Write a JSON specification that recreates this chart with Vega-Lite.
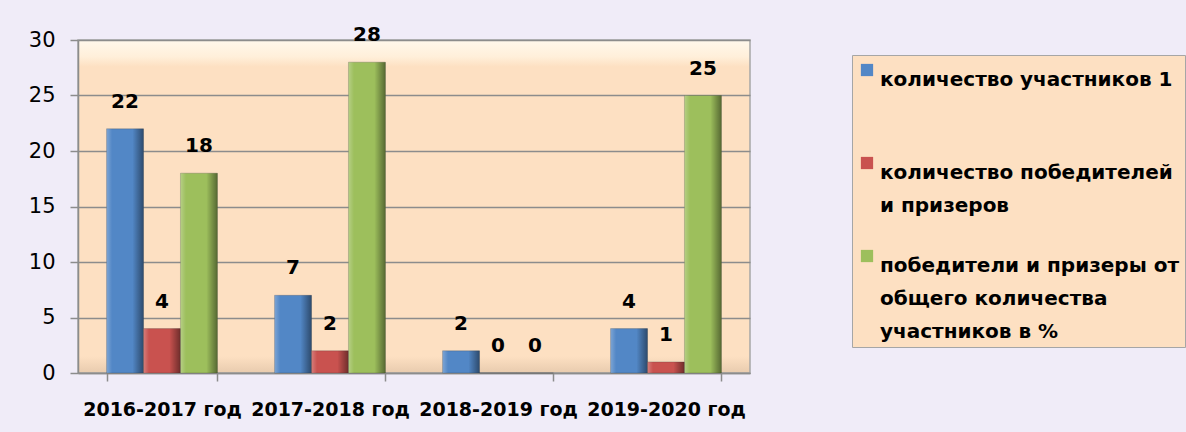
{
  "$schema": "https://vega.github.io/schema/vega-lite/v6.json",
  "width": 672,
  "height": 333,
  "autosize": {"type": "none"},
  "padding": {"left": 78, "top": 40, "right": 436, "bottom": 59},
  "background": "#F0ECF8",
  "config": {
    "font": "DejaVu Sans",
    "style": {"guide-label": {"lineHeight": 33}},
    "view": {
      "fill": {"gradient": "linear", "x1": 0, "y1": 0, "x2": 0, "y2": 1, "stops": [
        {"offset": 0, "color": "#FFF8EC"},
        {"offset": 0.05, "color": "#FFEFDA"},
        {"offset": 0.08, "color": "#FDE0C2"},
        {"offset": 0.95, "color": "#FDE0C2"},
        {"offset": 1, "color": "#E8CBAE"}
      ]},
      "stroke": "#A6A6A6",
      "strokeWidth": 1.5
    }
  },
  "data": {
    "values": [
      {"year": "2016-2017 год", "series": "количество участников 1", "value": 22},
      {"year": "2016-2017 год", "series": "количество победителей и призеров", "value": 4},
      {"year": "2016-2017 год", "series": "победители и призеры от общего количества участников в %", "value": 18},
      {"year": "2017-2018 год", "series": "количество участников 1", "value": 7},
      {"year": "2017-2018 год", "series": "количество победителей и призеров", "value": 2},
      {"year": "2017-2018 год", "series": "победители и призеры от общего количества участников в %", "value": 28},
      {"year": "2018-2019 год", "series": "количество участников 1", "value": 2},
      {"year": "2018-2019 год", "series": "количество победителей и призеров", "value": 0},
      {"year": "2018-2019 год", "series": "победители и призеры от общего количества участников в %", "value": 0},
      {"year": "2019-2020 год", "series": "количество участников 1", "value": 4},
      {"year": "2019-2020 год", "series": "количество победителей и призеров", "value": 1},
      {"year": "2019-2020 год", "series": "победители и призеры от общего количества участников в %", "value": 25}
    ]
  },
  "encoding": {
    "x": {
      "field": "year", "type": "nominal", "title": null,
      "scale": {"paddingInner": 0.34, "paddingOuter": 0.17},
      "axis": {
        "labelAngle": 0, "labelFont": "DejaVu Sans", "labelFontSize": 19, "labelFontWeight": "bold",
        "labelColor": "#000000", "labelPadding": 19, "tickBand": "extent", "tickSize": 8,
        "tickColor": "#8C8C8C", "domainColor": "#8C8C8C", "domainWidth": 1.5, "tickWidth": 1.5,
        "labelLimit": 200
      }
    },
    "xOffset": {
      "field": "series", "type": "nominal",
      "scale": {"paddingInner": 0, "paddingOuter": 0},
      "sort": ["количество участников 1", "количество победителей и призеров", "победители и призеры от общего количества участников в %"]
    },
    "y": {
      "field": "value", "type": "quantitative", "title": null,
      "scale": {"domain": [0, 30], "nice": false},
      "axis": {
        "values": [0, 5, 10, 15, 20, 25, 30], "labelFontSize": 21, "labelColor": "#000000",
        "labelPadding": 15, "tickSize": 8, "tickColor": "#8C8C8C", "tickWidth": 1.5,
        "gridColor": "#8C8C8C", "gridWidth": 1.5, "gridOpacity": 1,
        "domainColor": "#8C8C8C", "domainWidth": 1.5
      }
    }
  },
  "layer": [
    {
      "mark": {"type": "bar", "stroke": "#3a3a3a", "strokeWidth": 0.5, "strokeOpacity": 0.5},
      "encoding": {
        "color": {
          "field": "series", "type": "nominal",
          "scale": {
            "domain": ["количество участников 1", "количество победителей и призеров", "победители и призеры от общего количества участников в %"],
            "range": ["#5287C6", "#C9524F", "#9DBF5C"]
          },
          "legend": {
            "orient": "none", "legendX": 774, "legendY": 15,
            "title": null, "symbolType": "square", "symbolSize": 150,
            "symbolStrokeWidth": 0,
            "labelFont": "DejaVu Sans", "labelFontSize": 20, "labelFontWeight": "bold", "labelColor": "#000000",
            "labelLimit": 340, "labelOffset": 3, "rowPadding": 30,
            "fillColor": "#FDE0C2", "strokeColor": "#A6A6A6", "padding": 5,
            "labelExpr": "datum.label == 'количество победителей и призеров' ? ['количество победителей', 'и призеров'] : datum.label == 'победители и призеры от общего количества участников в %' ? ['победители и призеры от', 'общего количества', 'участников в %'] : [datum.label, ' ']",
            "labelBaseline": "top"
          }
        }
      }
    },
    {
      "mark": {
        "type": "bar",
        "color": {"gradient": "linear", "x1": 0, "y1": 0, "x2": 1, "y2": 0, "stops": [
          {"offset": 0, "color": "rgba(255,255,255,0.25)"},
          {"offset": 0.15, "color": "rgba(255,255,255,0)"},
          {"offset": 0.7, "color": "rgba(0,0,0,0)"},
          {"offset": 1, "color": "rgba(0,0,0,0.45)"}
        ]}
      }
    },
    {
      "mark": {"type": "text", "dy": -27, "baseline": "middle", "fontSize": 20, "fontWeight": "bold", "font": "DejaVu Sans", "color": "#000000"},
      "encoding": {"text": {"field": "value", "type": "quantitative"}}
    }
  ]
}
